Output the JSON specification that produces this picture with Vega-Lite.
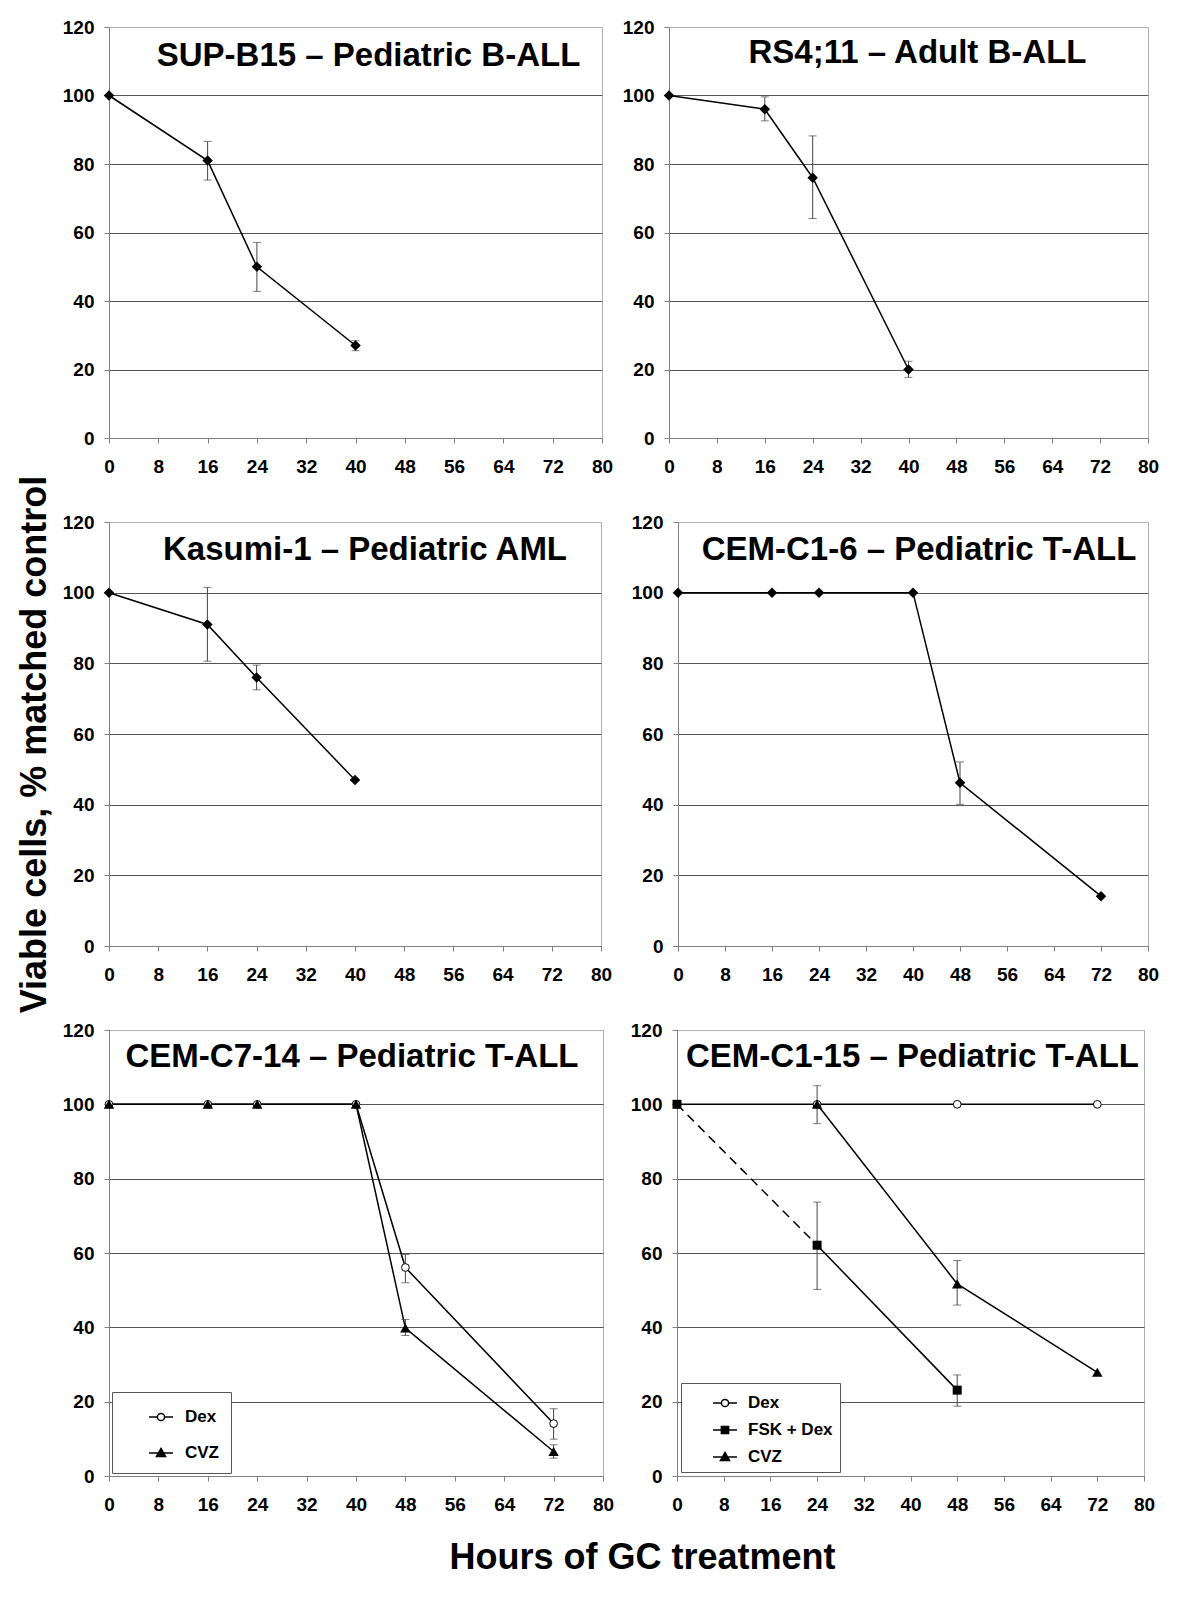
{
  "$schema": "https://vega.github.io/schema/vega-lite/v6.json",
  "background": "white",
  "padding": {"left": 16, "top": 17, "right": 10, "bottom": 5},
  "datasets": {
    "d": [
      {"p": "A", "s": "Dex", "tr": "Dex", "t": 0, "v": 100},
      {"p": "A", "s": "Dex", "tr": "Dex", "t": 16, "v": 81, "lo": 75.3, "hi": 86.6},
      {"p": "A", "s": "Dex", "tr": "Dex", "t": 24, "v": 50, "lo": 42.8, "hi": 57.1},
      {"p": "A", "s": "Dex", "tr": "Dex", "t": 40, "v": 27, "lo": 25.5, "hi": 28.4},
      {"p": "B", "s": "Dex", "tr": "Dex", "t": 0, "v": 100},
      {"p": "B", "s": "Dex", "tr": "Dex", "t": 16, "v": 96, "lo": 92.6, "hi": 99.6},
      {"p": "B", "s": "Dex", "tr": "Dex", "t": 24, "v": 76, "lo": 64.1, "hi": 88.2},
      {"p": "B", "s": "Dex", "tr": "Dex", "t": 40, "v": 20, "lo": 17.7, "hi": 22.4},
      {"p": "C", "s": "Dex", "tr": "Dex", "t": 0, "v": 100},
      {"p": "C", "s": "Dex", "tr": "Dex", "t": 16, "v": 91, "lo": 80.6, "hi": 101.5},
      {"p": "C", "s": "Dex", "tr": "Dex", "t": 24, "v": 76, "lo": 72.5, "hi": 79.5},
      {"p": "C", "s": "Dex", "tr": "Dex", "t": 40, "v": 47},
      {"p": "D", "s": "Dex", "tr": "Dex", "t": 0, "v": 100},
      {"p": "D", "s": "Dex", "tr": "Dex", "t": 16, "v": 100},
      {"p": "D", "s": "Dex", "tr": "Dex", "t": 24, "v": 100},
      {"p": "D", "s": "Dex", "tr": "Dex", "t": 40, "v": 100},
      {"p": "D", "s": "Dex", "tr": "Dex", "t": 48, "v": 46.2, "lo": 40.1, "hi": 52.1},
      {"p": "D", "s": "Dex", "tr": "Dex", "t": 72, "v": 14.1},
      {"p": "E", "s": "Dex", "tr": "Dex", "t": 0, "v": 100},
      {"p": "E", "s": "Dex", "tr": "Dex", "t": 16, "v": 100},
      {"p": "E", "s": "Dex", "tr": "Dex", "t": 24, "v": 100},
      {"p": "E", "s": "Dex", "tr": "Dex", "t": 40, "v": 100},
      {"p": "E", "s": "Dex", "tr": "Dex", "t": 48, "v": 56.1, "lo": 52.0, "hi": 59.6},
      {"p": "E", "s": "Dex", "tr": "Dex", "t": 72, "v": 14.1, "lo": 9.9, "hi": 18.1},
      {"p": "E", "s": "CVZ", "tr": "CVZ", "t": 0, "v": 100},
      {"p": "E", "s": "CVZ", "tr": "CVZ", "t": 16, "v": 100},
      {"p": "E", "s": "CVZ", "tr": "CVZ", "t": 24, "v": 100},
      {"p": "E", "s": "CVZ", "tr": "CVZ", "t": 40, "v": 100},
      {"p": "E", "s": "CVZ", "tr": "CVZ", "t": 48, "v": 39.8, "lo": 37.8, "hi": 42.1},
      {"p": "E", "s": "CVZ", "tr": "CVZ", "t": 72, "v": 6.6, "lo": 4.8, "hi": 8.4},
      {"p": "F", "s": "Dex", "tr": "Dex", "t": 0, "v": 100},
      {"p": "F", "s": "Dex", "tr": "Dex", "t": 24, "v": 100},
      {"p": "F", "s": "Dex", "tr": "Dex", "t": 48, "v": 100},
      {"p": "F", "s": "Dex", "tr": "Dex", "t": 72, "v": 100},
      {"p": "F", "s": "FSK + Dex", "tr": "FSK-d", "t": 0, "v": 100},
      {"p": "F", "s": "FSK + Dex", "tr": "FSK-d", "t": 24, "v": 62.1},
      {"p": "F", "s": "FSK + Dex", "tr": "FSK", "t": 24, "v": 62.1, "lo": 50.2, "hi": 73.7},
      {"p": "F", "s": "FSK + Dex", "tr": "FSK", "t": 48, "v": 23.1, "lo": 18.8, "hi": 27.2},
      {"p": "F", "s": "CVZ", "tr": "CVZ", "t": 24, "v": 100, "lo": 94.8, "hi": 105.0},
      {"p": "F", "s": "CVZ", "tr": "CVZ", "t": 48, "v": 51.7, "lo": 46.0, "hi": 58.0},
      {"p": "F", "s": "CVZ", "tr": "CVZ", "t": 72, "v": 27.9}
    ]
  },
  "title": {"text": "Viable cells, % matched control", "orient": "left", "anchor": "middle", "offset": 8, "dx": 52, "fontSize": 36},
  "resolve": {"scale": {"shape": "independent", "fill": "independent", "stroke": "independent"}, "legend": {"shape": "independent", "fill": "independent", "stroke": "independent"}},
  "vconcat": [
    {
      "title": {"text": "Hours of GC treatment", "orient": "bottom", "anchor": "middle", "offset": 26, "dx": 32, "fontSize": 36},
      "spacing": 35,
      "resolve": {"scale": {"shape": "independent", "fill": "independent", "stroke": "independent"}, "legend": {"shape": "independent", "fill": "independent", "stroke": "independent"}},
      "vconcat": [
        {
          "spacing": 7,
          "hconcat": [
            {
              "width": 493, "height": 411,
              "title": {"text": "SUP-B15 – Pediatric B-ALL", "offset": 0, "dy": 81, "baseline": "alphabetic", "frame": "group", "dx": 13},
              "data": {"name": "d"},
              "transform": [{"filter": "datum.p == 'A'"}],
              "encoding": {
                "x": {"field": "t", "type": "quantitative", "scale": {"domain": [0, 80], "nice": false}, "axis": {"values": [0, 8, 16, 24, 32, 40, 48, 56, 64, 72, 80], "title": null, "grid": false}},
                "y": {"field": "v", "type": "quantitative", "scale": {"domain": [0, 120], "nice": false}, "axis": {"values": [0, 20, 40, 60, 80, 100, 120], "title": null, "grid": true, "gridColor": {"condition": {"test": "datum.value >= 120", "value": "#b0b0b0"}, "value": "#555555"}}}
              },
              "layer": [
                {"mark": {"type": "line", "color": "black", "strokeWidth": 1.5}, "encoding": {"detail": {"field": "tr"}}},
                {"transform": [{"filter": "isValid(datum.lo)"}], "mark": {"type": "errorbar", "ticks": true, "size": 8, "thickness": 1, "color": "#444444"}, "encoding": {"y": {"field": "lo", "type": "quantitative", "title": null}, "y2": {"field": "hi"}}},
                {"mark": {"type": "point", "shape": "diamond", "filled": true, "color": "black", "size": 110, "opacity": 1}}
              ]
            },
            {
              "width": 479, "height": 411,
              "title": {"text": "RS4;11 – Adult B-ALL", "offset": 0, "dy": 78, "baseline": "alphabetic", "frame": "group", "dx": 9},
              "data": {"name": "d"},
              "transform": [{"filter": "datum.p == 'B'"}],
              "encoding": {
                "x": {"field": "t", "type": "quantitative", "scale": {"domain": [0, 80], "nice": false}, "axis": {"values": [0, 8, 16, 24, 32, 40, 48, 56, 64, 72, 80], "title": null, "grid": false}},
                "y": {"field": "v", "type": "quantitative", "scale": {"domain": [0, 120], "nice": false}, "axis": {"values": [0, 20, 40, 60, 80, 100, 120], "title": null, "grid": true, "gridColor": {"condition": {"test": "datum.value >= 120", "value": "#b0b0b0"}, "value": "#555555"}}}
              },
              "layer": [
                {"mark": {"type": "line", "color": "black", "strokeWidth": 1.5}, "encoding": {"detail": {"field": "tr"}}},
                {"transform": [{"filter": "isValid(datum.lo)"}], "mark": {"type": "errorbar", "ticks": true, "size": 8, "thickness": 1, "color": "#444444"}, "encoding": {"y": {"field": "lo", "type": "quantitative", "title": null}, "y2": {"field": "hi"}}},
                {"mark": {"type": "point", "shape": "diamond", "filled": true, "color": "black", "size": 110, "opacity": 1}}
              ]
            }
          ]
        },
        {
          "spacing": 17,
          "hconcat": [
            {
              "width": 492, "height": 424,
              "title": {"text": "Kasumi-1 – Pediatric AML", "offset": 0, "dy": 80, "baseline": "alphabetic", "frame": "group", "dx": 10},
              "data": {"name": "d"},
              "transform": [{"filter": "datum.p == 'C'"}],
              "encoding": {
                "x": {"field": "t", "type": "quantitative", "scale": {"domain": [0, 80], "nice": false}, "axis": {"values": [0, 8, 16, 24, 32, 40, 48, 56, 64, 72, 80], "title": null, "grid": false}},
                "y": {"field": "v", "type": "quantitative", "scale": {"domain": [0, 120], "nice": false}, "axis": {"values": [0, 20, 40, 60, 80, 100, 120], "title": null, "grid": true, "gridColor": {"condition": {"test": "datum.value >= 120", "value": "#b0b0b0"}, "value": "#555555"}}}
              },
              "layer": [
                {"mark": {"type": "line", "color": "black", "strokeWidth": 1.5}, "encoding": {"detail": {"field": "tr"}}},
                {"transform": [{"filter": "isValid(datum.lo)"}], "mark": {"type": "errorbar", "ticks": true, "size": 8, "thickness": 1, "color": "#444444"}, "encoding": {"y": {"field": "lo", "type": "quantitative", "title": null}, "y2": {"field": "hi"}}},
                {"mark": {"type": "point", "shape": "diamond", "filled": true, "color": "black", "size": 110, "opacity": 1}}
              ]
            },
            {
              "width": 470, "height": 424,
              "title": {"text": "CEM-C1-6 – Pediatric T-ALL", "offset": 0, "dy": 80, "baseline": "alphabetic", "frame": "group", "dx": 6},
              "data": {"name": "d"},
              "transform": [{"filter": "datum.p == 'D'"}],
              "encoding": {
                "x": {"field": "t", "type": "quantitative", "scale": {"domain": [0, 80], "nice": false}, "axis": {"values": [0, 8, 16, 24, 32, 40, 48, 56, 64, 72, 80], "title": null, "grid": false}},
                "y": {"field": "v", "type": "quantitative", "scale": {"domain": [0, 120], "nice": false}, "axis": {"values": [0, 20, 40, 60, 80, 100, 120], "title": null, "grid": true, "gridColor": {"condition": {"test": "datum.value >= 120", "value": "#b0b0b0"}, "value": "#555555"}}}
              },
              "layer": [
                {"mark": {"type": "line", "color": "black", "strokeWidth": 1.5}, "encoding": {"detail": {"field": "tr"}}},
                {"transform": [{"filter": "isValid(datum.lo)"}], "mark": {"type": "errorbar", "ticks": true, "size": 8, "thickness": 1, "color": "#444444"}, "encoding": {"y": {"field": "lo", "type": "quantitative", "title": null}, "y2": {"field": "hi"}}},
                {"mark": {"type": "point", "shape": "diamond", "filled": true, "color": "black", "size": 110, "opacity": 1}}
              ]
            }
          ]
        },
        {
          "spacing": 14,
          "resolve": {"scale": {"shape": "independent", "fill": "independent", "stroke": "independent"}, "legend": {"shape": "independent", "fill": "independent", "stroke": "independent"}},
          "hconcat": [
            {
              "width": 494, "height": 446,
              "title": {"text": "CEM-C7-14 – Pediatric T-ALL", "offset": 0, "dy": 79, "baseline": "alphabetic", "frame": "group", "dx": -4},
              "data": {"name": "d"},
              "transform": [{"filter": "datum.p == 'E'"}],
              "encoding": {
                "x": {"field": "t", "type": "quantitative", "scale": {"domain": [0, 80], "nice": false}, "axis": {"values": [0, 8, 16, 24, 32, 40, 48, 56, 64, 72, 80], "title": null, "grid": false}},
                "y": {"field": "v", "type": "quantitative", "scale": {"domain": [0, 120], "nice": false}, "axis": {"values": [0, 20, 40, 60, 80, 100, 120], "title": null, "grid": true, "gridColor": {"condition": {"test": "datum.value >= 120", "value": "#b0b0b0"}, "value": "#555555"}}}
              },
              "layer": [
                {"mark": {"type": "line", "color": "black", "strokeWidth": 1.5}, "encoding": {"detail": {"field": "tr"}}},
                {"transform": [{"filter": "isValid(datum.lo)"}], "mark": {"type": "errorbar", "ticks": true, "size": 8, "thickness": 1, "color": "#444444"}, "encoding": {"y": {"field": "lo", "type": "quantitative", "title": null}, "y2": {"field": "hi"}}},
                {"transform": [{"filter": "datum.s == 'Dex'"}], "mark": {"type": "point", "shape": "circle", "filled": true, "fill": "white", "stroke": "black", "strokeWidth": 1, "size": 60, "opacity": 1}},
                {"transform": [{"filter": "datum.s == 'CVZ'"}], "mark": {"type": "point", "shape": "triangle-up", "filled": true, "color": "black", "size": 110, "opacity": 1}},
                {"transform": [{"filter": "datum.t < 0"}], "mark": {"type": "point", "filled": true, "strokeWidth": 1.5, "opacity": 1},
                 "encoding": {
                   "shape": {"field": "s", "type": "nominal", "scale": {"domain": ["Dex", "CVZ"], "range": ["M-1,0H-0.3M0.3,0H1M-0.3,0A0.3,0.3,0,1,1,0.3,0A0.3,0.3,0,1,1,-0.3,0Z", "M-1,0H1M0,-0.38L0.38,0.3H-0.38Z"]},
                     "legend": {"title": null, "orient": "bottom-left", "offset": 3, "strokeColor": "#555555", "fillColor": "white", "padding": 12, "symbolSize": 576, "symbolOffset": 24, "rowPadding": 15, "labelFontSize": 17, "symbolStrokeWidth": 1.5, "labelOffset": 11}},
                   "fill": {"field": "s", "type": "nominal", "scale": {"domain": ["Dex", "CVZ"], "range": ["white", "black"]},
                     "legend": {"title": null, "orient": "bottom-left", "offset": 3, "strokeColor": "#555555", "fillColor": "white", "padding": 12, "symbolSize": 576, "symbolOffset": 24, "rowPadding": 15, "labelFontSize": 17, "symbolStrokeWidth": 1.5, "labelOffset": 11}},
                   "stroke": {"field": "s", "type": "nominal", "scale": {"domain": ["Dex", "CVZ"], "range": ["black", "black"]},
                     "legend": {"title": null, "orient": "bottom-left", "offset": 3, "strokeColor": "#555555", "fillColor": "white", "padding": 12, "symbolSize": 576, "symbolOffset": 24, "rowPadding": 15, "labelFontSize": 17, "symbolStrokeWidth": 1.5, "labelOffset": 11}}
                 }}
              ]
            },
            {
              "width": 467, "height": 446,
              "title": {"text": "CEM-C1-15 – Pediatric T-ALL", "offset": 0, "dy": 79, "baseline": "alphabetic", "frame": "group", "dx": 2},
              "data": {"name": "d"},
              "transform": [{"filter": "datum.p == 'F'"}],
              "encoding": {
                "x": {"field": "t", "type": "quantitative", "scale": {"domain": [0, 80], "nice": false}, "axis": {"values": [0, 8, 16, 24, 32, 40, 48, 56, 64, 72, 80], "title": null, "grid": false}},
                "y": {"field": "v", "type": "quantitative", "scale": {"domain": [0, 120], "nice": false}, "axis": {"values": [0, 20, 40, 60, 80, 100, 120], "title": null, "grid": true, "gridColor": {"condition": {"test": "datum.value >= 120", "value": "#b0b0b0"}, "value": "#555555"}}}
              },
              "layer": [
                {"transform": [{"filter": "datum.tr != 'FSK-d'"}], "mark": {"type": "line", "color": "black", "strokeWidth": 1.5}, "encoding": {"detail": {"field": "tr"}}},
                {"transform": [{"filter": "datum.tr == 'FSK-d'"}], "mark": {"type": "line", "color": "black", "strokeWidth": 1.5, "strokeDash": [9, 6]}, "encoding": {"detail": {"field": "tr"}}},
                {"transform": [{"filter": "isValid(datum.lo)"}], "mark": {"type": "errorbar", "ticks": true, "size": 8, "thickness": 1, "color": "#444444"}, "encoding": {"y": {"field": "lo", "type": "quantitative", "title": null}, "y2": {"field": "hi"}}},
                {"transform": [{"filter": "datum.s == 'Dex'"}], "mark": {"type": "point", "shape": "circle", "filled": true, "fill": "white", "stroke": "black", "strokeWidth": 1, "size": 60, "opacity": 1}},
                {"transform": [{"filter": "datum.s == 'FSK + Dex' && !(datum.tr == 'FSK-d' && datum.t == 24)"}], "mark": {"type": "point", "shape": "square", "filled": true, "color": "black", "size": 81, "opacity": 1}},
                {"transform": [{"filter": "datum.s == 'CVZ'"}], "mark": {"type": "point", "shape": "triangle-up", "filled": true, "color": "black", "size": 110, "opacity": 1}},
                {"transform": [{"filter": "datum.t < 0"}], "mark": {"type": "point", "filled": true, "strokeWidth": 1.5, "opacity": 1},
                 "encoding": {
                   "shape": {"field": "s", "type": "nominal", "scale": {"domain": ["Dex", "FSK + Dex", "CVZ"], "range": ["M-1,0H-0.3M0.3,0H1M-0.3,0A0.3,0.3,0,1,1,0.3,0A0.3,0.3,0,1,1,-0.3,0Z", "M-1,0H1M-0.3,-0.3H0.3V0.3H-0.3Z", "M-1,0H1M0,-0.38L0.38,0.3H-0.38Z"]},
                     "legend": {"title": null, "orient": "bottom-left", "offset": 4, "strokeColor": "#555555", "fillColor": "white", "padding": 7, "symbolSize": 576, "symbolOffset": 24, "rowPadding": 6, "labelFontSize": 17, "symbolStrokeWidth": 1.5, "labelOffset": 10}},
                   "fill": {"field": "s", "type": "nominal", "scale": {"domain": ["Dex", "FSK + Dex", "CVZ"], "range": ["white", "black", "black"]},
                     "legend": {"title": null, "orient": "bottom-left", "offset": 4, "strokeColor": "#555555", "fillColor": "white", "padding": 7, "symbolSize": 576, "symbolOffset": 24, "rowPadding": 6, "labelFontSize": 17, "symbolStrokeWidth": 1.5, "labelOffset": 10}},
                   "stroke": {"field": "s", "type": "nominal", "scale": {"domain": ["Dex", "FSK + Dex", "CVZ"], "range": ["black", "black", "black"]},
                     "legend": {"title": null, "orient": "bottom-left", "offset": 4, "strokeColor": "#555555", "fillColor": "white", "padding": 7, "symbolSize": 576, "symbolOffset": 24, "rowPadding": 6, "labelFontSize": 17, "symbolStrokeWidth": 1.5, "labelOffset": 10}}
                 }}
              ]
            }
          ]
        }
      ]
    }
  ],
  "config": {
    "font": "Liberation Sans",
    "view": {"stroke": "#b0b0b0", "strokeWidth": 1},
    "title": {"font": "Liberation Sans", "fontSize": 33, "fontWeight": "bold", "color": "black"},
    "axis": {"labelFont": "Liberation Sans", "labelFontSize": 19, "labelFontWeight": "bold", "labelColor": "black", "domainColor": "#808080", "tickColor": "#808080", "tickSize": 5, "gridWidth": 1, "labelFlush": false},
    "axisX": {"labelPadding": 14},
    "axisY": {"labelPadding": 10},
    "legend": {"labelFont": "Liberation Sans", "labelFontWeight": "bold", "labelColor": "black"}
  }
}
